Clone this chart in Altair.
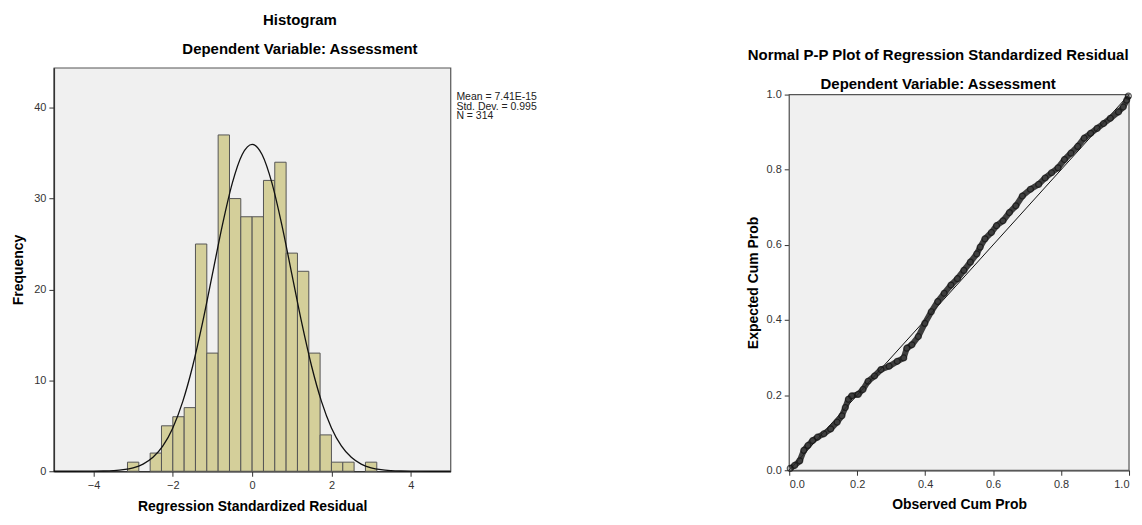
import altair as alt
import pandas as pd

# ---------------- data ----------------
bin_edges = [-3.143, -2.857, -2.571, -2.286, -2.000, -1.714, -1.429, -1.143,
             -0.857, -0.571, -0.286, 0.000, 0.286, 0.571, 0.857, 1.143,
             1.429, 1.714, 2.000, 2.286, 2.571, 2.857, 3.143]
bin_counts = [1, 0, 2, 5, 6, 7, 25, 13, 37, 30, 28, 28, 32, 34, 24, 22,
              13, 4, 1, 1, 0, 1]

curve_x = [-5.0, -4.5, -4.0, -3.75, -3.5, -3.25, -3.0, -2.75, -2.5, -2.25,
           -2.0, -1.75, -1.5, -1.25, -1.0, -0.75, -0.5, -0.25, 0.0,
           0.25, 0.5, 0.75, 1.0, 1.25, 1.5, 1.75, 2.0, 2.25, 2.5, 2.75,
           3.0, 3.25, 3.5, 3.75, 4.0, 4.5, 5.0]
curve_y = [0.0, 0.001, 0.011, 0.03, 0.074, 0.17, 0.38, 0.79, 1.53, 2.79,
           4.77, 7.66, 11.55, 16.34, 21.71, 27.08, 31.70, 34.85, 35.97,
           34.85, 31.70, 27.08, 21.71, 16.34, 11.55, 7.66, 4.77, 2.79, 1.53, 0.79,
           0.38, 0.17, 0.074, 0.03, 0.011, 0.001, 0.0]

stats_lines = ["Mean = 7.41E-15", "Std. Dev. = 0.995", "N = 314"]

pp_observed = [0.003, 0.016, 0.031, 0.043, 0.055, 0.069, 0.083, 0.102, 0.122, 0.141,
               0.155, 0.165, 0.174, 0.184, 0.203, 0.217, 0.232, 0.251, 0.270, 0.294,
               0.318, 0.337, 0.346, 0.361, 0.380, 0.399, 0.418, 0.437, 0.456, 0.476,
               0.495, 0.514, 0.533, 0.552, 0.562, 0.576, 0.595, 0.610, 0.629, 0.648,
               0.667, 0.686, 0.710, 0.734, 0.753, 0.772, 0.791, 0.810, 0.829, 0.849,
               0.868, 0.887, 0.906, 0.925, 0.945, 0.969, 0.983, 0.993, 0.998]
pp_expected = [0.005, 0.013, 0.025, 0.053, 0.066, 0.079, 0.088, 0.097, 0.110, 0.128,
               0.145, 0.167, 0.189, 0.198, 0.202, 0.215, 0.237, 0.251, 0.268, 0.277,
               0.290, 0.299, 0.325, 0.334, 0.356, 0.391, 0.422, 0.449, 0.471, 0.493,
               0.510, 0.532, 0.554, 0.576, 0.594, 0.616, 0.633, 0.651, 0.664, 0.686,
               0.704, 0.730, 0.748, 0.761, 0.778, 0.792, 0.805, 0.827, 0.844, 0.862,
               0.884, 0.897, 0.910, 0.923, 0.937, 0.954, 0.967, 0.985, 0.996]

diag = [0.0, 1.0]

hist_x_ticks = [-4, -2, 0, 2, 4]
hist_y_ticks = [0, 10, 20, 30, 40]
pp_ticks = [0.0, 0.2, 0.4, 0.6, 0.8, 1.0]

# ---------------- tables ----------------
bars = pd.DataFrame({
    "start": bin_edges[:-1],
    "end": bin_edges[1:],
    "count": bin_counts,
})
bars = bars[bars["count"] > 0]
curve = pd.DataFrame({"x": curve_x, "y": curve_y})
stats = pd.DataFrame({"t": ["\n".join(stats_lines)]})
pp = pd.DataFrame({"obs": pp_observed, "exp": pp_expected, "i": range(len(pp_observed))})
diag_df = pd.DataFrame({"a": diag, "b": diag})
frame_df = pd.DataFrame({"lo": [diag[0]], "hi": [diag[1]]})

FONT = "Liberation Sans"
AX = dict(domainColor="#333333", domainWidth=1.5, tickColor="#333333", tickSize=5,
          labelColor="#333333", labelFontSize=11, labelFont=FONT,
          titleFont=FONT, titleFontSize=14, titleFontWeight="bold", titleColor="#000000",
          grid=False, labelPadding=3)

# ---------------- histogram ----------------
H_H = 405
hx = alt.X("start:Q", scale=alt.Scale(domain=[-5, 5], nice=False, zero=False),
           axis=alt.Axis(values=hist_x_ticks, title="Regression Standardized Residual",
                         titlePadding=9, **AX))
hy = alt.Y("count:Q", scale=alt.Scale(domain=[0, 44.4], nice=False),
           axis=alt.Axis(values=hist_y_ticks, title="Frequency", titlePadding=8, **AX))

hist_bars = alt.Chart(bars).mark_bar(fill="#d4cf9a", stroke="#555555", strokeWidth=1).encode(
    x=hx, x2="end:Q", y=hy, y2=alt.datum(0)
)
hist_curve = alt.Chart(curve).mark_line(color="#111111", strokeWidth=1.3,
                                        interpolate="monotone").encode(
    x="x:Q", y="y:Q"
)
hist_text = alt.Chart(stats).mark_text(align="left", baseline="top", fontSize=10.5,
                                       font=FONT, color="#222222", lineBreak="\n",
                                       lineHeight=10).encode(
    x=alt.value(404), y=alt.value(24), text="t:N"
)

hist = alt.layer(hist_bars, hist_curve, hist_text).properties(
    width=398, height=H_H,
    title=alt.TitleParams(
        text="Histogram", subtitle="Dependent Variable: Assessment",
        anchor="middle", dx=48, fontSize=15, subtitleFontSize=15,
        fontWeight="bold", subtitleFontWeight="bold", font=FONT, subtitleFont=FONT,
        color="#000000", subtitleColor="#000000", subtitlePadding=14, offset=11,
    ),
)

# ---------------- P-P plot ----------------
PP_H = 404
pp_xscale = alt.Scale(domain=[0, 1], nice=False)
pp_yscale = alt.Scale(domain=[0, 1], nice=False, range=[PP_H, 27])
pp_xaxis = alt.Axis(values=pp_ticks, format=".1f", title="Observed Cum Prob",
                    titlePadding=8, **AX)
pp_yaxis = alt.Axis(values=pp_ticks, format=".1f", title="Expected Cum Prob",
                    titlePadding=6, **AX)

pp_frame = alt.Chart(frame_df).mark_rect(fill="#f0f0f0", stroke="#555555",
                                          strokeWidth=1.2).encode(
    x=alt.X("lo:Q", scale=pp_xscale, axis=pp_xaxis),
    x2="hi:Q",
    y=alt.Y("lo:Q", scale=pp_yscale, axis=pp_yaxis),
    y2="hi:Q",
)
pp_diag = alt.Chart(diag_df).mark_line(color="#111111", strokeWidth=1).encode(
    x=alt.X("a:Q"), y=alt.Y("b:Q")
)
pp_chain = alt.Chart(pp).mark_line(color="#2a2a2a", strokeWidth=6, opacity=0.9).encode(
    x="obs:Q", y="exp:Q", order="i:Q"
)
pp_pts = alt.Chart(pp).mark_point(shape="circle", filled=False, size=36,
                                  stroke="#111111", strokeWidth=1.2).encode(
    x="obs:Q", y="exp:Q"
)

ppplot = alt.layer(pp_frame, pp_diag, pp_chain, pp_pts).properties(
    width=341, height=PP_H,
    view=alt.ViewBackground(fill="transparent", stroke="transparent"),
    title=alt.TitleParams(
        text="Normal P-P Plot of Regression Standardized Residual",
        subtitle="Dependent Variable: Assessment",
        anchor="middle", dx=-21, fontSize=15, subtitleFontSize=15,
        fontWeight="bold", subtitleFontWeight="bold", font=FONT, subtitleFont=FONT,
        color="#000000", subtitleColor="#000000", subtitlePadding=14, offset=-24,
    ),
)

chart = alt.ConcatChart(concat=[hist, ppplot], columns=2, spacing=340, align="none",
                        bounds="flush").properties(
    padding={"left": 3, "top": 3, "right": -7, "bottom": 1}
).configure(font=FONT, background="#ffffff").configure_view(
    fill="#f0f0f0", stroke="#555555", strokeWidth=1.2
)

chart.save("out.html", embed_options={"renderer": "svg", "actions": False})
